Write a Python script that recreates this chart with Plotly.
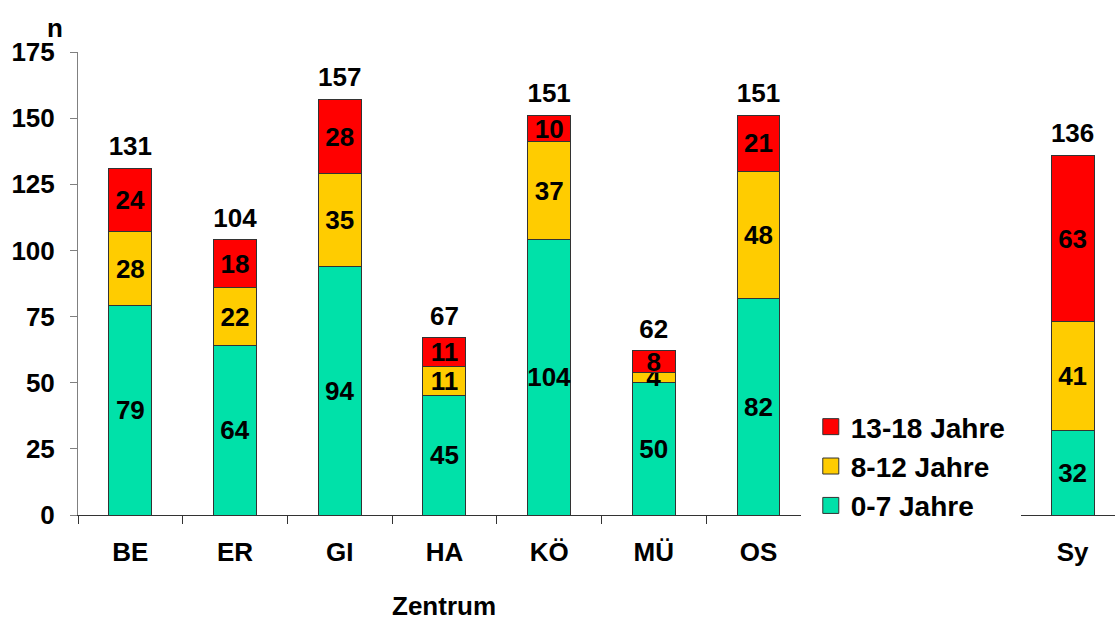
import plotly.graph_objects as go

categories = ["BE", "ER", "GI", "HA", "KÖ", "MÜ", "OS", "Sy"]
positions = [0, 1, 2, 3, 4, 5, 6, 9]
age_0_7 = [79, 64, 94, 45, 104, 50, 82, 32]
age_8_12 = [28, 22, 35, 11, 37, 4, 48, 41]
age_13_18 = [24, 18, 28, 11, 10, 8, 21, 63]
totals = [131, 104, 157, 67, 151, 62, 151, 136]
y_ticks = [0, 25, 50, 75, 100, 125, 150, 175]

FONT = "Liberation Sans, Arial, sans-serif"
green = "#00E1A9"
yellow = "#FFCC00"
red = "#FF0000"
edge = "#333333"

series = [("0-7 Jahre", age_0_7, green),
          ("8-12 Jahre", age_8_12, yellow),
          ("13-18 Jahre", age_13_18, red)]

fig = go.Figure()
for name, vals, col in series:
    fig.add_trace(go.Bar(
        x=positions, y=vals, name=name, width=0.41, showlegend=False,
        marker=dict(color=col, line=dict(color=edge, width=1)),
        text=[str(v) for v in vals], textposition="inside", textangle=0,
        insidetextanchor="middle", constraintext="none",
        textfont=dict(family=FONT, size=26, color="black", weight="bold"),
        hoverinfo="skip",
    ))

# legend entries with larger square swatches
for name, vals, col in series:
    fig.add_trace(go.Scatter(
        x=[None], y=[None], mode="markers", name=name,
        marker=dict(symbol="square", size=16, color=col,
                    line=dict(color=edge, width=1)),
        hoverinfo="skip",
    ))

fig.add_trace(go.Scatter(
    x=positions, y=totals, mode="markers+text", text=[str(t) for t in totals],
    textposition="top center", showlegend=False,
    marker=dict(size=9, opacity=0),
    textfont=dict(family=FONT, size=26, color="black", weight="bold"),
    hoverinfo="skip",
))

fig.update_layout(
    width=1115, height=619,
    barmode="stack",
    plot_bgcolor="white", paper_bgcolor="white",
    margin=dict(l=78, r=0, t=52, b=104, autoexpand=False),
    font=dict(family=FONT, size=26, color="black", weight="bold"),
    showlegend=True,
    legend=dict(
        traceorder="reversed", bgcolor="white",
        bordercolor="white", borderwidth=10,
        x=0.697, xanchor="left", y=-0.056, yanchor="bottom",
        font=dict(family=FONT, size=28, color="black", weight="bold"),
        itemsizing="trace", tracegroupgap=0,
    ),
    xaxis=dict(
        range=[-0.5, 9.405], tickmode="array", tickvals=positions,
        ticktext=categories, ticks="", showgrid=False, zeroline=False,
        showline=True, linecolor="#333333", linewidth=1, automargin=False,
        tickfont=dict(family=FONT, size=26, color="black", weight="bold"),
        ticklabelstandoff=14,
        minor=dict(tickmode="linear", tick0=-0.5, dtick=1, ticks="outside",
                   ticklen=8, tickcolor="#333333", showgrid=False),
    ),
    yaxis=dict(
        range=[0, 175], tickmode="array", tickvals=y_ticks,
        ticks="outside", ticklen=7, tickcolor="#808080",
        showline=True, linecolor="#808080", linewidth=1, automargin=False,
        showgrid=False, zeroline=False,
        tickfont=dict(family=FONT, size=26, color="black", weight="bold"),
        ticklabelstandoff=10,
    ),
    annotations=[
        dict(text="n", xref="paper", yref="paper", x=-0.022, y=1.052,
             xanchor="center", yanchor="middle", showarrow=False,
             font=dict(family=FONT, size=26, color="black", weight="bold")),
        dict(text="Zentrum", xref="x", yref="paper", x=3, y=-0.197,
             xanchor="center", yanchor="middle", showarrow=False,
             font=dict(family=FONT, size=26, color="black", weight="bold")),
    ],
)

fig.write_html("out.html",
               config={"displayModeBar": False},
               post_script="document.body.style.margin='0';document.body.style.overflow='hidden';")
